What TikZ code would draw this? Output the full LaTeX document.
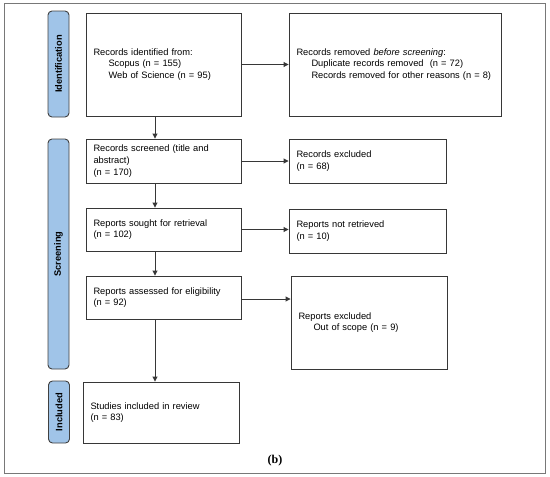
\documentclass[tikz,border=0pt]{standalone}
\usepackage{fontspec}
\setsansfont{Liberation Sans}
\newfontfamily\capfont{Liberation Serif}
\usepackage{tikz}
\usetikzlibrary{arrows.meta,positioning}
\usepackage{xcolor}
\definecolor{phaseblue}{RGB}{160,196,232}
\definecolor{framegray}{RGB}{120,120,120}
\definecolor{linegray}{RGB}{55,55,55}

\begin{document}
\begin{tikzpicture}[
  x=1pt, y=-1pt,
  font=\sffamily\fontsize{9.3}{11.6}\selectfont,
  stagebox/.style={draw=linegray,line width=0.9pt,minimum height=#1,
    inner xsep=7.5pt,inner ysep=0pt,align=left,anchor=center},
  stagebox/.default=44pt,
  phasebar/.style={draw=black!75,fill=phaseblue,line width=0.9pt,
    rounded corners=4pt,minimum width=21pt,inner sep=0pt},
  phasetext/.style={rotate=90,font=\sffamily\bfseries\fontsize{9.3}{11}\selectfont},
  flow/.style={-{Triangle[length=5pt,width=5pt]},line width=0.9pt,linegray}
]
  \useasboundingbox (0,0) rectangle (550,477);
  \draw[framegray,line width=0.9pt] (4,3) rectangle (545,473);

  % phase bars on the left
  \node[phasebar,minimum height=106pt] (barid) at (58.5,64) {};
  \node[phasetext] at (barid) {Identification};
  \node[phasebar,minimum height=230pt] (barscr) at (58.5,254) {};
  \node[phasetext] at (barscr) {Screening};
  \node[phasebar,minimum height=62pt] (barinc) at (59,412) {};
  \node[phasetext] at (barinc) {Included};

  % main column
  \node[stagebox=103pt,text width=140pt] (ident) at (163.5,64.5)
    {Records identified from:\\
     \hspace*{15pt}Scopus (n = 155)\\
     \hspace*{15pt}Web of Science (n = 95)};
  \node[stagebox,text width=140pt] (screened) at (163.5,161)
    {Records screened (title and\\abstract)\\(n = 170)};
  \node[stagebox=43pt,text width=140pt] (sought) at (163.5,229.5)
    {Reports sought for retrieval\\(n = 102)};
  \node[stagebox=43pt,text width=140pt] (assessed) at (163.5,297.5)
    {Reports assessed for eligibility\\(n = 92)};
  \node[stagebox=61pt,text width=141pt] (included) at (161,412.5)
    {Studies included in review\\(n = 83)};

  % side column
  \node[stagebox=103pt,text width=197pt] (removed) at (395,64.5)
    {Records removed \textit{before screening}:\\
     \hspace*{15pt}Duplicate records removed\ \ (n = 72)\\
     \hspace*{15pt}Records removed for other reasons (n = 8)};
  \node[stagebox,text width=142pt] (excluded) at (367.5,161)
    {Records excluded\\(n = 68)};
  \node[stagebox,text width=142pt] (notretr) at (367.5,231)
    {Reports not retrieved\\(n = 10)};
  \node[stagebox=93pt,text width=141pt] (repexcl) at (369,322.5)
    {Reports excluded\\
     \hspace*{15pt}Out of scope (n = 9)};

  \coordinate (spine) at (155,0);
  \draw[flow] (ident.south -| spine) -- (screened.north -| spine);
  \draw[flow] (screened.south -| spine) -- (sought.north -| spine);
  \draw[flow] (sought.south -| spine) -- (assessed.north -| spine);
  \draw[flow] (assessed.south -| spine) -- (included.north -| spine);

  \draw[flow] (ident.east) -- (ident.east -| removed.west);
  \draw[flow] (screened.east) -- (excluded.west);
  \draw[flow] (sought.east) -- (sought.east -| notretr.west);
  \draw[flow] ([yshift=-1.5pt]assessed.east) -- ([yshift=-1.5pt]assessed.east -| repexcl.west);

  \node[font=\capfont\bfseries\fontsize{12}{14}\selectfont] (caption) at (275,461) {(b)};
\end{tikzpicture}
\end{document}
